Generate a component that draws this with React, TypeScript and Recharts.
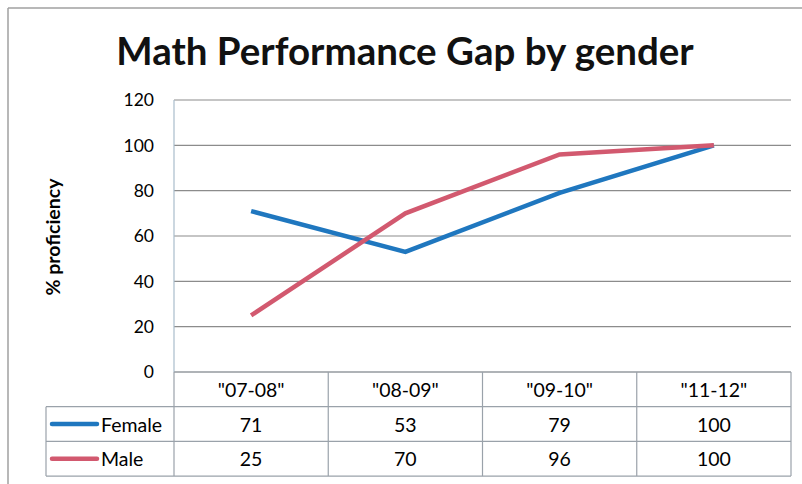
import { LineChart, Line, XAxis, YAxis, CartesianGrid } from "recharts";

const categories = ['"07-08"', '"08-09"', '"09-10"', '"11-12"'];
const female = [71, 53, 79, 100];
const male = [25, 70, 96, 100];
const yTicks = [0, 20, 40, 60, 80, 100, 120];

const series = [
  { key: "Female", values: female, color: "#1f77bf" },
  { key: "Male", values: male, color: "#d2596f" },
];

const data = categories.map((period, i) => ({
  period,
  Female: female[i],
  Male: male[i],
}));

const FONT = "Lato, 'Open Sans', sans-serif";
const W = 802;
const H = 484;
const PLOT_RIGHT = 791;
const TABLE_LEFT = 46;
const ROW_H = 34.7;
const LINE_COLOR = "#9aa2aa";
const TABLE_FONT = 19.5;
const COL_W = (PLOT_RIGHT - 174) / categories.length;

// draws the header cell + value cells under each category
function TableTick(props: any) {
  const { x, y, payload } = props;
  const i = payload.index;
  const left = x - COL_W / 2;
  const right = x + COL_W / 2;
  const bottom = y + ROW_H * 3;
  return (
    <g>
      <line x1={left} y1={y} x2={left} y2={bottom} stroke={LINE_COLOR} strokeWidth={1.2} />
      {i === categories.length - 1 && (
        <line x1={right} y1={y} x2={right} y2={bottom} stroke={LINE_COLOR} strokeWidth={1.2} />
      )}
      <text x={x} y={y + ROW_H / 2} textAnchor="middle" dominantBaseline="central" fontSize={TABLE_FONT} fill="#000" fontFamily={FONT}>
        {payload.value}
      </text>
      {series.map((s, r) => (
        <text
          key={s.key}
          x={x}
          y={y + ROW_H * (r + 1.5)}
          textAnchor="middle"
          dominantBaseline="central"
          fontSize={TABLE_FONT}
          fill="#000"
          fontFamily={FONT}
        >
          {s.values[i]}
        </text>
      ))}
      {i === 0 && (
        <g>
          {[1, 2, 3].map((r) => (
            <line
              key={r}
              x1={TABLE_LEFT}
              y1={y + ROW_H * r}
              x2={PLOT_RIGHT}
              y2={y + ROW_H * r}
              stroke={LINE_COLOR}
              strokeWidth={1.2}
            />
          ))}
          <line x1={TABLE_LEFT} y1={y + ROW_H} x2={TABLE_LEFT} y2={bottom} stroke={LINE_COLOR} strokeWidth={1.2} />
          {series.map((s, r) => (
            <g key={s.key}>
              <line
                x1={TABLE_LEFT + 6}
                y1={y + ROW_H * (r + 1.5)}
                x2={TABLE_LEFT + 51}
                y2={y + ROW_H * (r + 1.5)}
                stroke={s.color}
                strokeWidth={4.5}
                strokeLinecap="round"
              />
              <text
                x={TABLE_LEFT + 55}
                y={y + ROW_H * (r + 1.5)}
                dominantBaseline="central"
                fontSize={TABLE_FONT}
                fill="#000"
                fontFamily={FONT}
              >
                {s.key}
              </text>
            </g>
          ))}
        </g>
      )}
    </g>
  );
}

export default function App() {
  return (
    <div style={{ position: "absolute", left: 0, top: 0, width: W, height: H, background: "#fff" }}>
      <svg width={W} height={H} style={{ position: "absolute", left: 0, top: 0 }}>
        <line x1={8} y1={8} x2={W} y2={8} stroke="#a0a0a0" strokeWidth={1.5} />
        <line x1={8} y1={8} x2={8} y2={H} stroke="#a0a0a0" strokeWidth={1.5} />
        <text x={405} y={65} textAnchor="middle" fontSize={38.5} fontWeight="bold" fill="#111" fontFamily={FONT}>
          Math Performance Gap by gender
        </text>
        <text
          x={52}
          y={237}
          transform="rotate(-90 52 237)"
          textAnchor="middle"
          dominantBaseline="central"
          fontSize={19.5}
          fontWeight="bold"
          fill="#000"
          fontFamily={FONT}
        >
          % proficiency
        </text>
      </svg>
      <div style={{ position: "absolute", left: 0, top: 0 }}>
        <LineChart width={W} height={H} data={data} margin={{ top: 100, right: W - PLOT_RIGHT, bottom: 0, left: 0 }}>
          <CartesianGrid vertical={false} stroke="#8c8c8c" strokeWidth={1.2} />
          <YAxis
            width={174}
            domain={[0, 120]}
            ticks={yTicks}
            interval={0}
            tickLine={false}
            tickSize={0}
            tickMargin={20}
            axisLine={{ stroke: "#a9bccb", strokeWidth: 1.2 }}
            tick={{ fontSize: 17.5, fill: "#000", fontFamily: FONT }}
          />
          <XAxis
            dataKey="period"
            height={112}
            interval={0}
            padding={{ left: COL_W / 2, right: COL_W / 2 }}
            tickLine={false}
            tickSize={0}
            tickMargin={0}
            axisLine={{ stroke: LINE_COLOR, strokeWidth: 1.2 }}
            tick={<TableTick />}
          />
          {series.map((s) => (
            <Line
              key={s.key}
              dataKey={s.key}
              stroke={s.color}
              strokeWidth={4.5}
              dot={false}
              activeDot={false}
              isAnimationActive={false}
            />
          ))}
        </LineChart>
      </div>
    </div>
  );
}
